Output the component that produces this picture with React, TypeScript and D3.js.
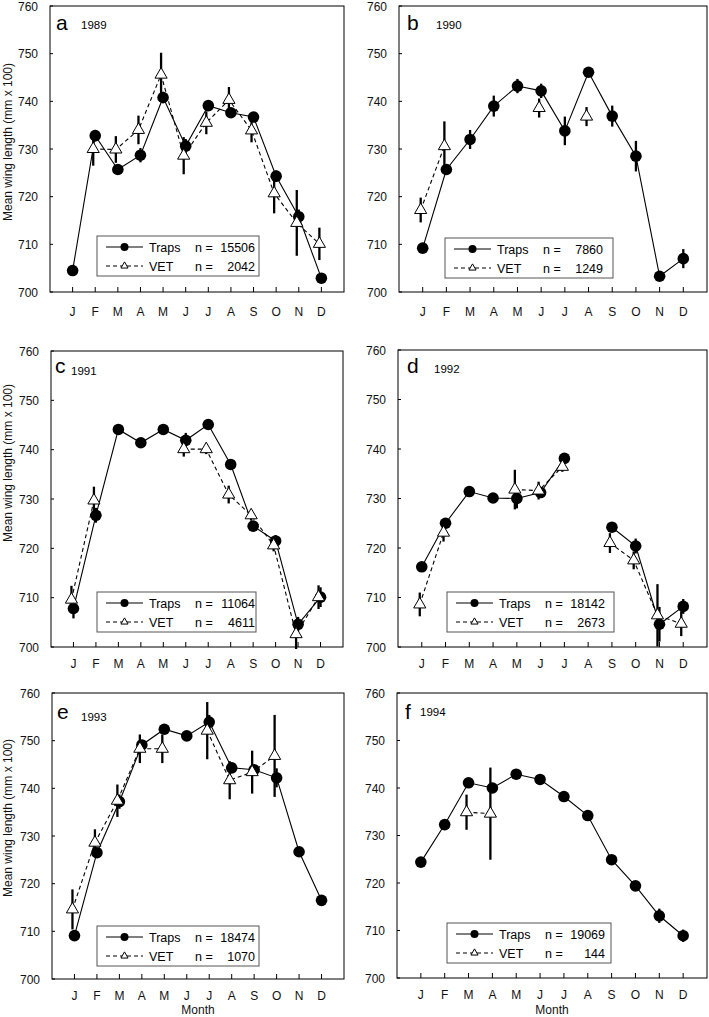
import React from 'react';
import * as d3 from 'd3';

const MONTHS = ['J', 'F', 'M', 'A', 'M', 'J', 'J', 'A', 'S', 'O', 'N', 'D'];
const Y_TICKS = [700, 710, 720, 730, 740, 750, 760];
const N = null;

// 1989
const traps1989 = [704.5, 732.8, 725.7, 728.7, 740.8, 730.6, 739.1, 737.6, 736.7, 724.3, 715.8, 702.9];
const trapsSe1989 = [0.5, 1.2, 1, 1.5, 1.2, 1.5, 1, 1, 1, 1.2, 1.5, 0.5];
const vet1989 = [N, 730.0, 729.9, 734.0, 745.6, 728.6, 735.5, 740.3, 733.9, 720.7, 714.5, 710.1];
const vetSe1989 = [N, 3.5, 2.8, 3, 4.6, 3.9, 2.4, 2.7, 2.5, 4.2, 6.9, 3.4];
// 1990
const traps1990 = [709.2, 725.7, 732.0, 739.0, 743.2, 742.2, 733.8, 746.1, 736.9, 728.5, 703.3, 707.0];
const trapsSe1990 = [0.8, 1, 2, 2.2, 1.5, 1.5, 3, 1, 2.2, 3.2, 0.8, 2];
const vet1990 = [717.2, 730.6, N, N, N, 738.6, N, 736.8, N, N, N, N];
const vetSe1990 = [2.6, 5.2, N, N, N, 2, N, 2, N, N, N, N];
// 1991
const traps1991 = [707.8, 726.7, 744.1, 741.4, 744.1, 741.9, 745.1, 737.0, 724.5, 721.5, 704.6, 710.1];
const trapsSe1991 = [2, 1.5, 0.5, 0.5, 0.5, 1.5, 0.8, 0.8, 1, 1.2, 1.5, 2];
const vet1991 = [709.6, 729.7, N, N, N, 740.1, 740.1, 730.9, 726.7, 720.6, 702.6, 710.1];
const vetSe1991 = [2.8, 2.8, N, N, N, 1.5, 1, 1.8, 1, 1.2, 3, 2.4];
// 1992
const traps1992 = [716.2, 725.0, 731.4, 730.1, 730.0, 731.2, 738.1, N, 724.2, 720.4, 704.6, 708.2];
const trapsSe1992 = [1, 1, 0.5, 0.5, 2, 1, 1, N, 1, 1.5, 3.5, 1.5];
const vet1992 = [708.6, 723.1, N, N, 731.8, 731.6, 736.4, N, 721.0, 717.5, 706.4, 704.7];
const vetSe1992 = [2.4, 1.8, N, N, 4, 1.8, 1, N, 2, 1.8, 6.3, 2.5];
// 1993
const traps1993 = [709.1, 726.5, 737.2, 749.1, 752.4, 751.0, 753.9, 744.3, 743.9, 742.2, 726.7, 716.5];
const trapsSe1993 = [1, 1, 1.5, 1, 1, 0.5, 1.5, 1, 1, 2, 0.5, 0.5];
const vet1993 = [714.6, 728.6, 737.4, 748.3, 748.3, N, 752.1, 741.7, 743.4, 746.8, N, N];
const vetSe1993 = [4.2, 2.8, 3.4, 3, 3, N, 6, 4, 4.5, 8.6, N, N];
// 1994
const traps1994 = [724.4, 732.3, 741.1, 740.0, 742.9, 741.8, 738.2, 734.2, 724.9, 719.4, 713.1, 708.9];
const trapsSe1994 = [0.5, 0.5, 0.5, 0.5, 0.5, 0.5, 0.5, 0.5, 0.5, 0.5, 1.5, 1.3];
const vet1994 = [N, N, 734.9, 734.6, N, N, N, N, N, N, N, N];
const vetSe1994 = [N, N, 3.7, 9.7, N, N, N, N, N, N, N, N];

const PANEL_IDS = ['a', 'b', 'c', 'd', 'e', 'f'];
const YEARS = ['1989', '1990', '1991', '1992', '1993', '1994'];
const N_TRAPS = ['15506', '7860', '11064', '18142', '18474', '19069'];
const N_VET = ['2042', '1249', '4611', '2673', '1070', '144'];

const TRAPS = [traps1989, traps1990, traps1991, traps1992, traps1993, traps1994];
const TRAPS_SE = [trapsSe1989, trapsSe1990, trapsSe1991, trapsSe1992, trapsSe1993, trapsSe1994];
const VET = [vet1989, vet1990, vet1991, vet1992, vet1993, vet1994];
const VET_SE = [vetSe1989, vetSe1990, vetSe1991, vetSe1992, vetSe1993, vetSe1994];

// layout (pixels)
const LAYOUT = [
  { x0: 50, x1: 344, y0: 6, y1: 292, lx: 97, lw: 162, lb: 276, mY: 24, letX: 6, letY: 24, yrX: 31, yrY: 23, titleY: 142 },
  { x0: 399, x1: 707, y0: 6, y1: 292, lx: 445, lw: 168, lb: 278, mY: 24, letX: 8, letY: 24, yrX: 37, yrY: 23 },
  { x0: 51, x1: 343, y0: 351, y1: 647, lx: 97, lw: 159, lb: 632, mY: 21, letX: 4, letY: 22, yrX: 20, yrY: 24, titleY: 463 },
  { x0: 398, x1: 707, y0: 350, y1: 647, lx: 447, lw: 167, lb: 632, mY: 21, letX: 9, letY: 23, yrX: 36, yrY: 23 },
  { x0: 52, x1: 344, y0: 693, y1: 979, lx: 97, lw: 162, lb: 966, mY: 21, letX: 5, letY: 26, yrX: 29, yrY: 28, titleY: 818 },
  { x0: 397, x1: 707, y0: 693, y1: 978, lx: 447, lw: 164, lb: 963, mY: 21, letX: 8, letY: 26, yrX: 23, yrY: 23 },
];

const FONT = '"Liberation Sans", Arial, sans-serif';
const triPath = d3.symbol(d3.symbolTriangle, 64)() as string;
const triSmall = d3.symbol(d3.symbolTriangle, 22)() as string;

function Panel({ idx }: { idx: number }) {
  const L = LAYOUT[idx];
  const x = d3.scaleLinear().domain([0, 13]).range([L.x0, L.x1]);
  const y = d3.scaleLinear().domain([700, 760]).range([L.y1, L.y0]);
  const traps = TRAPS[idx];
  const trapsSe = TRAPS_SE[idx];
  const vet = VET[idx];
  const vetSe = VET_SE[idx];
  const vOff = -2;

  const line = (off: number) =>
    d3
      .line<number | null>()
      .defined((d) => d != null)
      .x((_, i) => x(i + 1) + off)
      .y((d) => y(d as number));

  const lh = 40;
  const lt = L.lb - lh;
  const r1 = lt + 11;
  const r2 = lt + 30;

  return (
    <g>
      {Y_TICKS.map((t) => (
        <g key={t}>
          <line x1={L.x0} x2={L.x0 + 3} y1={y(t)} y2={y(t)} stroke="#000" strokeWidth={1} />
          <text x={L.x0 - 12} y={y(t) + 4.5} textAnchor="end" fontSize={12} fontFamily={FONT} fill="#111">
            {t}
          </text>
        </g>
      ))}
      {MONTHS.map((m, i) => (
        <g key={i}>
          <line x1={x(i + 1)} x2={x(i + 1)} y1={L.y1} y2={L.y1 - 5} stroke="#000" strokeWidth={1} />
          <text x={x(i + 1)} y={L.y1 + L.mY} textAnchor="middle" fontSize={12} fontFamily={FONT} fill="#111">
            {m}
          </text>
        </g>
      ))}
      <path d={line(0)(traps) || ''} fill="none" stroke="#000" strokeWidth={1.1} />
      <path d={line(vOff)(vet) || ''} fill="none" stroke="#000" strokeWidth={1.1} strokeDasharray="4,3" />
      {traps.map((v, i) =>
        v == null ? null : (
          <g key={'t' + i}>
            <line
              x1={x(i + 1)}
              x2={x(i + 1)}
              y1={y(v - (trapsSe[i] || 0))}
              y2={y(v + (trapsSe[i] || 0))}
              stroke="#000"
              strokeWidth={2.3}
            />
            <circle cx={x(i + 1)} cy={y(v)} r={5.8} fill="#000" />
          </g>
        )
      )}
      {vet.map((v, i) =>
        v == null ? null : (
          <g key={'v' + i}>
            <line
              x1={x(i + 1) + vOff}
              x2={x(i + 1) + vOff}
              y1={y(v - (vetSe[i] || 0))}
              y2={y(v + (vetSe[i] || 0))}
              stroke="#000"
              strokeWidth={2.3}
            />
            <path
              d={triPath}
              transform={`translate(${x(i + 1) + vOff},${y(v)})`}
              fill="#fff"
              stroke="#000"
              strokeWidth={1}
            />
          </g>
        )
      )}
      <rect x={L.x0} y={L.y0} width={L.x1 - L.x0} height={L.y1 - L.y0} fill="none" stroke="#000" strokeWidth={1} />
      <text x={L.x0 + L.letX} y={L.y0 + L.letY} fontSize={21} fontFamily={FONT} fill="#000">
        {PANEL_IDS[idx]}
      </text>
      <text x={L.x0 + L.yrX} y={L.y0 + L.yrY} fontSize={11.5} fontFamily={FONT} fill="#000">
        {YEARS[idx]}
      </text>
      <rect x={L.lx} y={lt} width={L.lw} height={lh} fill="#fff" stroke="#555" strokeWidth={1} />
      <line x1={L.lx + 9} x2={L.lx + 46} y1={r1} y2={r1} stroke="#000" strokeWidth={1.1} />
      <circle cx={L.lx + 27.5} cy={r1} r={4} fill="#000" />
      <line x1={L.lx + 9} x2={L.lx + 46} y1={r2} y2={r2} stroke="#000" strokeWidth={1.1} strokeDasharray="4,3" />
      <path d={triSmall} transform={`translate(${L.lx + 27.5},${r2})`} fill="#fff" stroke="#000" strokeWidth={1} />
      <text x={L.lx + 52} y={r1 + 4.5} fontSize={12.5} fontFamily={FONT} fill="#000">
        Traps
      </text>
      <text x={L.lx + 52} y={r2 + 4.5} fontSize={12.5} fontFamily={FONT} fill="#000">
        VET
      </text>
      <text x={L.lx + 98} y={r1 + 4.5} fontSize={12.5} fontFamily={FONT} fill="#000">
        n =
      </text>
      <text x={L.lx + 98} y={r2 + 4.5} fontSize={12.5} fontFamily={FONT} fill="#000">
        n =
      </text>
      <text x={L.lx + 158} y={r1 + 4.5} textAnchor="end" fontSize={12.5} fontFamily={FONT} fill="#000">
        {N_TRAPS[idx]}
      </text>
      <text x={L.lx + 158} y={r2 + 4.5} textAnchor="end" fontSize={12.5} fontFamily={FONT} fill="#000">
        {N_VET[idx]}
      </text>
      {L.titleY != null && (
        <text
          transform={`translate(11.5,${L.titleY}) rotate(-90)`}
          textAnchor="middle"
          fontSize={12}
          fontFamily={FONT}
          fill="#111"
        >
          Mean wing length (mm x 100)
        </text>
      )}
      {idx >= 4 && (
        <text x={(L.x0 + L.x1) / 2} y={1014} textAnchor="middle" fontSize={12} fontFamily={FONT} fill="#111">
          Month
        </text>
      )}
    </g>
  );
}

export default function App() {
  return (
    <svg
      width={709}
      height={1017}
      viewBox="0 0 709 1017"
      style={{ position: 'absolute', left: 0, top: 0, background: '#fff' }}
    >
      <rect x={0} y={0} width={709} height={1017} fill="#fff" />
      {PANEL_IDS.map((_, i) => (
        <Panel key={i} idx={i} />
      ))}
    </svg>
  );
}
